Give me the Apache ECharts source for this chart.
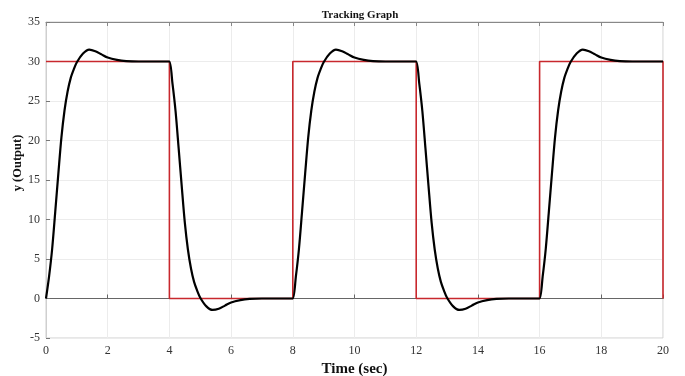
<!DOCTYPE html>
<html>
<head>
<meta charset="utf-8">
<script src="https://cdn.jsdelivr.net/npm/echarts@6/dist/echarts.min.js"></script>
<style>
  html, body { margin: 0; padding: 0; background: #fff; }
  #chart { width: 685px; height: 376px; }
</style>
</head>
<body>
<div id="chart"></div>
<script>
// reference square wave (changes at each time)
const refTimes = [0, 4, 8, 12, 16, 20];
const refLevels = [30, 0, 30, 0, 30, 0];

const outTimes = [
  0, 0.1, 0.2, 0.3, 0.4, 0.5, 0.6, 0.7, 0.8, 0.9, 1.0, 1.2, 1.4, 1.6, 1.8, 2.0, 2.3, 2.6, 3.0, 3.4, 3.7, 3.9,
  4, 4.1, 4.2, 4.3, 4.4, 4.5, 4.6, 4.7, 4.8, 4.9, 5.0, 5.2, 5.4, 5.6, 5.8, 6.0, 6.3, 6.6, 7.0, 7.4, 7.7, 7.9,
  8, 8.1, 8.2, 8.3, 8.4, 8.5, 8.6, 8.7, 8.8, 8.9, 9.0, 9.2, 9.4, 9.6, 9.8, 10.0, 10.3, 10.6, 11.0, 11.4, 11.7, 11.9,
  12, 12.1, 12.2, 12.3, 12.4, 12.5, 12.6, 12.7, 12.8, 12.9, 13.0, 13.2, 13.4, 13.6, 13.8, 14.0, 14.3, 14.6, 15.0, 15.4, 15.7, 15.9,
  16, 16.1, 16.2, 16.3, 16.4, 16.5, 16.6, 16.7, 16.8, 16.9, 17.0, 17.2, 17.4, 17.6, 17.8, 18.0, 18.3, 18.6, 19.0, 19.4, 19.7, 20
];
const outValues = [
  0, 2.8, 6.3, 11, 15.8, 20.4, 23.8, 26.2, 27.9, 29.0, 29.9, 31.0, 31.5, 31.3, 30.9, 30.5, 30.2, 30.05, 30.0, 30.0, 30.0, 30.0,
  30, 27.2, 23.7, 19, 14.2, 9.6, 6.2, 3.8, 2.1, 1.0, 0.1, -1.0, -1.45, -1.3, -0.9, -0.5, -0.2, -0.05, 0, 0, 0, 0,
  0, 2.8, 6.3, 11, 15.8, 20.4, 23.8, 26.2, 27.9, 29.0, 29.9, 31.0, 31.5, 31.3, 30.9, 30.5, 30.2, 30.05, 30.0, 30.0, 30.0, 30.0,
  30, 27.2, 23.7, 19, 14.2, 9.6, 6.2, 3.8, 2.1, 1.0, 0.1, -1.0, -1.45, -1.3, -0.9, -0.5, -0.2, -0.05, 0, 0, 0, 0,
  0, 2.8, 6.3, 11, 15.8, 20.4, 23.8, 26.2, 27.9, 29.0, 29.9, 31.0, 31.5, 31.3, 30.9, 30.5, 30.2, 30.05, 30.0, 30.0, 30.0, 30.0
];

const xTicks = [0, 2, 4, 6, 8, 10, 12, 14, 16, 18, 20];
const yTicks = [-5, 0, 5, 10, 15, 20, 25, 30, 35];

const serif = '"Liberation Serif", "Times New Roman", serif';
const chart = echarts.init(document.getElementById('chart'));

chart.setOption({
  animation: false,
  backgroundColor: '#fff',
  title: {
    text: 'Tracking Graph',
    left: 355, top: 5, textAlign: 'center',
    textStyle: { fontFamily: serif, fontSize: 11, fontWeight: 'bold', color: '#111' }
  },
  grid: {
    left: 46, right: 22, top: 22, bottom: 38,
    outerBoundsMode: 'none', containLabel: false,
    show: true, borderColor: '#cfcfcf', borderWidth: 1
  },
  xAxis: [{
    type: 'value', min: xTicks[0], max: xTicks[xTicks.length - 1], interval: 2,
    name: 'Time (sec)', nameLocation: 'middle', nameGap: 22,
    nameTextStyle: { fontFamily: serif, fontSize: 15, fontWeight: 'bold', color: '#111' },
    axisLine: { lineStyle: { color: '#666', width: 1 } },
    axisTick: { inside: true, length: 4, lineStyle: { color: '#666' } },
    axisLabel: { fontFamily: serif, fontSize: 12, color: '#333', margin: 7 },
    splitLine: { show: true, lineStyle: { color: '#ececec' } }
  }, {
    type: 'value', position: 'top', min: 0, max: 20, interval: 2,
    axisLine: { show: true, lineStyle: { color: '#888' } },
    axisTick: { inside: true, length: 4, lineStyle: { color: '#888' } },
    axisLabel: { show: false }, splitLine: { show: false }
  }],
  yAxis: {
    type: 'value', min: yTicks[0], max: yTicks[yTicks.length - 1], interval: 5,
    name: 'y (Output)', nameLocation: 'middle', nameGap: 22, nameRotate: 90,
    nameMoveOverlap: false,
    nameTextStyle: { fontFamily: serif, fontSize: 12.5, fontWeight: 'bold', color: '#111', padding: [0, 0, 0, 34] },
    axisLine: { show: true, lineStyle: { color: '#cfcfcf' } },
    axisTick: { show: true, inside: true, length: 4, lineStyle: { color: '#777' } },
    axisLabel: { fontFamily: serif, fontSize: 12, color: '#333', margin: 6 },
    splitLine: { show: true, lineStyle: { color: '#ececec' } }
  },
  series: [{
    name: 'Reference', type: 'line', step: 'end', symbol: 'none',
    data: refTimes.map((t, i) => [t, refLevels[i]]),
    lineStyle: { color: '#c8282d', width: 1.6 }, z: 2
  }, {
    name: 'Output', type: 'line', smooth: 0.3, symbol: 'none',
    data: outTimes.map((t, i) => [t, outValues[i]]),
    lineStyle: { color: '#000', width: 2.2 }, z: 3
  }]
});
</script>
</body>
</html>
